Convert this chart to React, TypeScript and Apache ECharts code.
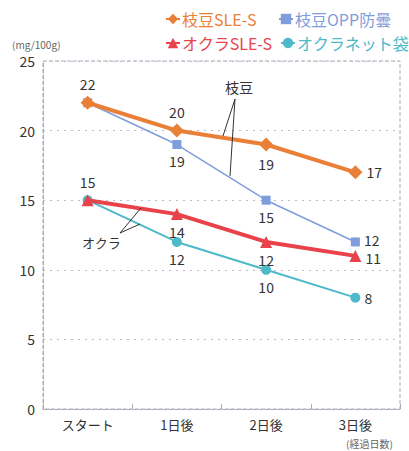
import React, { useEffect, useRef } from "react";
import * as echarts from "echarts";

const categories = ["スタート", "1日後", "2日後", "3日後"];
const edamameSLE = [22, 20, 19, 17];
const edamameOPP = [22, 19, 15, 12];
const okraSLE = [15, 14, 12, 11];
const okraNet = [15, 12, 10, 8];
const yTicks = [0, 5, 10, 15, 20, 25];

const FONT = "'Noto Sans CJK JP', 'Noto Sans', sans-serif";
const C_ORANGE = "#EA7F38";
const C_BLUE = "#7F9DDB";
const C_RED = "#E8434A";
const C_TEAL = "#4DB9C9";

// label placement per point (null = hidden)
const posOrange = ["top", "top", "bottom", "right"];
const posBlue = [null, "bottom", "bottom", "right"];
const posRed = ["top", "bottom", "bottom", "right"];
const posTeal = [null, "bottom", "bottom", "right"];
// vertical nudge of the end label
const endNudgeBlue = -2;
const endNudgeRed = 2;

function withLabels(values: number[], pos: (string | null)[], endNudge = 0) {
  return values.map((v, i) => ({
    value: v,
    label: pos[i]
      ? {
          show: true,
          position: pos[i],
          distance: pos[i] === "right" ? 4 : 5,
          offset: pos[i] === "right" ? [0, endNudge] : [0, 0],
        }
      : { show: false },
  }));
}

export default function App() {
  const ref = useRef<HTMLDivElement>(null);
  useEffect(() => {
    const chart = echarts.init(ref.current!, null, { renderer: "svg" });
    const labelStyle = { color: "#333", fontSize: 14, fontFamily: FONT, lineHeight: 14 };
    const legendBase = (name: string, left: number, top: number, color: string) => ({
      data: [name],
      left,
      top,
      padding: 0,
      itemWidth: 14,
      itemHeight: 13,
      itemGap: 0,
      textStyle: { color, fontSize: 16, fontFamily: FONT, padding: [0, 0, 0, -3] },
    });
    chart.setOption({
      animation: false,
      textStyle: { fontFamily: FONT },
      legend: [
        legendBase("枝豆SLE-S", 165, 11, C_ORANGE),
        legendBase("枝豆OPP防曇", 278, 11, C_BLUE),
        legendBase("オクラSLE-S", 165, 35, C_RED),
        legendBase("オクラネット袋", 280, 35, C_TEAL),
      ],
      grid: {
        left: 43,
        right: 9,
        top: 61,
        bottom: 42,
        show: true,
        borderColor: "#aab",
        borderWidth: 1,
        borderType: "dashed",
      },
      xAxis: {
        type: "category",
        data: categories,
        boundaryGap: true,
        axisLine: { lineStyle: { color: "#aab", type: "dashed" } },
        axisTick: { show: true, inside: true, length: 5, lineStyle: { color: "#aab" } },
        axisLabel: { color: "#333", fontSize: 13, margin: 9, fontFamily: FONT },
        splitLine: { show: false },
      },
      yAxis: {
        type: "value",
        min: yTicks[0],
        max: yTicks[yTicks.length - 1],
        interval: 5,
        axisLine: { show: true, lineStyle: { color: "#aab", type: "dashed" } },
        axisTick: { show: false },
        axisLabel: { color: "#333", fontSize: 14, margin: 8, fontFamily: FONT },
        splitLine: { lineStyle: { color: "#bbc", type: [2, 5] } },
      },
      series: [
        {
          name: "枝豆SLE-S",
          type: "line",
          data: withLabels(edamameSLE, posOrange),
          symbol: "diamond",
          symbolSize: 14,
          itemStyle: { color: C_ORANGE },
          lineStyle: { color: C_ORANGE, width: 4 },
          label: labelStyle,
          z: 4,
        },
        {
          name: "枝豆OPP防曇",
          type: "line",
          data: withLabels(edamameOPP, posBlue, endNudgeBlue),
          symbol: "rect",
          symbolSize: 9,
          itemStyle: { color: C_BLUE },
          lineStyle: { color: C_BLUE, width: 1.5 },
          label: labelStyle,
          z: 3,
        },
        {
          name: "オクラSLE-S",
          type: "line",
          data: withLabels(okraSLE, posRed, endNudgeRed),
          symbol: "triangle",
          symbolSize: 12,
          itemStyle: { color: C_RED },
          lineStyle: { color: C_RED, width: 4 },
          label: labelStyle,
          z: 4,
        },
        {
          name: "オクラネット袋",
          type: "line",
          data: withLabels(okraNet, posTeal),
          symbol: "circle",
          symbolSize: 10,
          itemStyle: { color: C_TEAL },
          lineStyle: { color: C_TEAL, width: 2 },
          label: labelStyle,
          z: 3,
        },
      ],
      graphic: [
        {
          type: "text",
          left: 12,
          top: 39,
          style: { text: "(mg/100g)", fill: "#666", fontSize: 10, fontFamily: FONT },
        },
        {
          type: "text",
          left: 346,
          top: 438,
          style: { text: "(経過日数)", fill: "#666", fontSize: 10, fontFamily: FONT },
        },
        {
          type: "text",
          left: 225,
          top: 80,
          style: { text: "枝豆", fill: "#333", fontSize: 14, fontFamily: FONT },
        },
        {
          type: "line",
          shape: { x1: 235, y1: 99, x2: 223, y2: 136 },
          style: { stroke: "#333", lineWidth: 1 },
          z: 10,
        },
        {
          type: "line",
          shape: { x1: 235, y1: 99, x2: 230, y2: 176 },
          style: { stroke: "#333", lineWidth: 1 },
          z: 10,
        },
        {
          type: "text",
          left: 82,
          top: 236,
          style: { text: "オクラ", fill: "#333", fontSize: 13, fontFamily: FONT },
        },
        {
          type: "line",
          shape: { x1: 120, y1: 233, x2: 141, y2: 208 },
          style: { stroke: "#333", lineWidth: 1 },
          z: 10,
        },
        {
          type: "line",
          shape: { x1: 120, y1: 233, x2: 140, y2: 224 },
          style: { stroke: "#333", lineWidth: 1 },
          z: 10,
        },
      ],
    });
    return () => chart.dispose();
  }, []);
  return <div ref={ref} style={{ width: 409, height: 451, position: "absolute", left: 0, top: 0 }} />;
}
